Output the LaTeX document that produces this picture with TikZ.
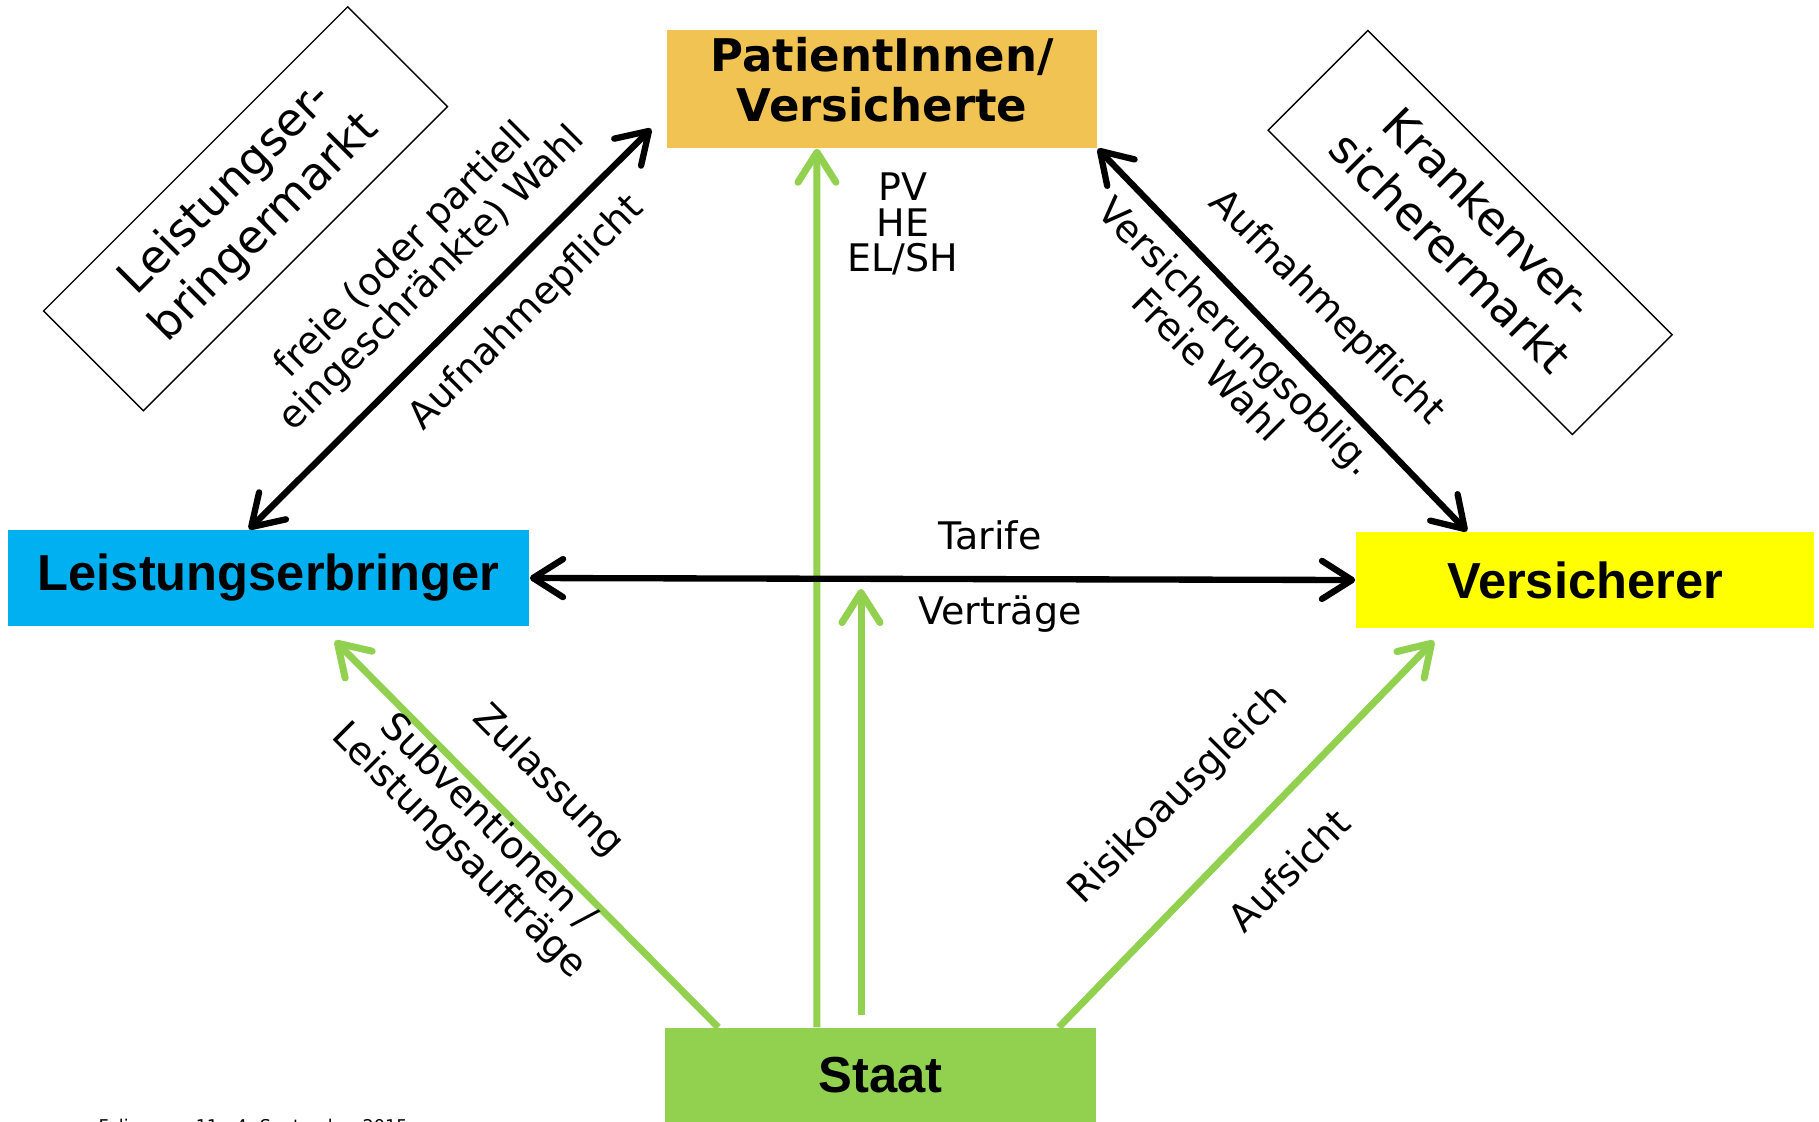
\documentclass[tikz,border=0pt]{standalone}
\usepackage{fontspec}
\setmainfont{DejaVu Sans}
\newfontfamily\boxfont{Liberation Sans}
\usetikzlibrary{arrows.meta}

\definecolor{patcol}{RGB}{241,195,83}
\definecolor{lecol}{RGB}{0,176,240}
\definecolor{verscol}{RGB}{255,255,0}
\definecolor{staatcol}{RGB}{146,208,80}

\tikzset{
  akteur/.style={inner sep=0pt, align=center, font={\boxfont\bfseries\fontsize{14.4}{16}\selectfont}},
  mbox/.style={draw, thin, align=center, minimum width=4.3cm, minimum height=1.41cm, font=\fontsize{13}{15.5}\selectfont},
  lbl/.style={align=center, inner sep=0pt, font=\fontsize{10.8}{11.5}\selectfont},
  blkarrow/.style={line width=1.8pt, {Straight Barb[length=3mm,width=3.8mm,round]}-{Straight Barb[length=3mm,width=3.8mm,round]}},
  grnarrow/.style={staatcol, line width=2pt, -{Straight Barb[length=3mm,width=3.8mm,round]}}
}

\begin{document}
\begin{tikzpicture}[x=0.01cm, y=-0.01cm]
\useasboundingbox (0,0) rectangle (1819,1121);

% Akteure
\node[akteur, fill=patcol, minimum width=4.30cm, minimum height=1.18cm, text depth=0.2cm, font={\bfseries\fontsize{12.8}{14.2}\selectfont}] (pat) at (882,89) {PatientInnen/\\Versicherte};
\node[akteur, fill=lecol, minimum width=5.21cm, minimum height=0.96cm] (le) at (268.5,578) {Leistungserbringer};
\node[akteur, fill=verscol, minimum width=4.58cm, minimum height=0.96cm] (vers) at (1585,580) {Versicherer};
\node[akteur, fill=staatcol, minimum width=4.31cm, minimum height=0.94cm] (staat) at (880.5,1075) {Staat};

% Maerkte
\node[mbox, rotate=45] (lemarkt) at (245.5,208.75) {Leistungser-\\bringermarkt};
\node[mbox, rotate=-45] (kvmarkt) at (1470,232.5) {Krankenver-\\sicherermarkt};

% Staat (gruen)
\coordinate (vstart) at (861,1015);
\coordinate (vend) at (861,589);
\draw[grnarrow] ([xshift=-0.635cm]staat.north) -- ([xshift=-0.65cm]pat.south);
\draw[grnarrow] (vstart) -- (vend);
\draw[grnarrow] ([xshift=0.54cm]staat.north west) -- ([xshift=0.665cm,yshift=-0.14cm]le.south);
\draw[grnarrow] ([xshift=-0.38cm]staat.north east) -- ([xshift=-1.51cm,yshift=-0.12cm]vers.south);

% Beziehungen (schwarz)
\draw[blkarrow] ([xshift=-0.195cm]le.north) -- ([xshift=-0.15cm,yshift=0.2cm]pat.south west);
\draw[blkarrow] (pat.south east) -- ([xshift=-1.18cm]vers.north);
\draw[blkarrow] (le.east) -- (vers.west);

% Beschriftungen
\node[lbl, rotate=45] (wahl) at (418,265) {freie (oder partiell\\eingeschränkte) Wahl};
\node[lbl, rotate=45] (aufl) at (527,313) {Aufnahmepflicht};
\node[lbl, rotate=-45] (aufr) at (1326,308) {Aufnahmepflicht};
\node[lbl, rotate=-45] (oblig) at (1223,350) {Versicherungsoblig.\\Freie Wahl};
\node[lbl, font=\fontsize{10.8}{10}\selectfont] (pvhe) at (903,224) {PV\\HE\\EL/SH};
\node[lbl] (tarife) at (990,535) {Tarife};
\node[lbl] (vertr) at (1000,614) {Verträge};
\node[lbl, rotate=-45] (zul) at (548,781) {Zulassung};
\node[lbl, rotate=-45] (subv) at (473,837) {Subventionen /\\Leistungsaufträge};
\node[lbl, rotate=45] (risiko) at (1179,795) {Risikoausgleich};
\node[lbl, rotate=45] (aufs) at (1289,870) {Aufsicht};

% Fusszeile
\node[anchor=base west, inner sep=0pt, font=\fontsize{5}{5}\selectfont] (fuss) at (98,1132) {Folie\hspace{3.2em}11\hspace{1em}4. September 2015};
\end{tikzpicture}
\end{document}
